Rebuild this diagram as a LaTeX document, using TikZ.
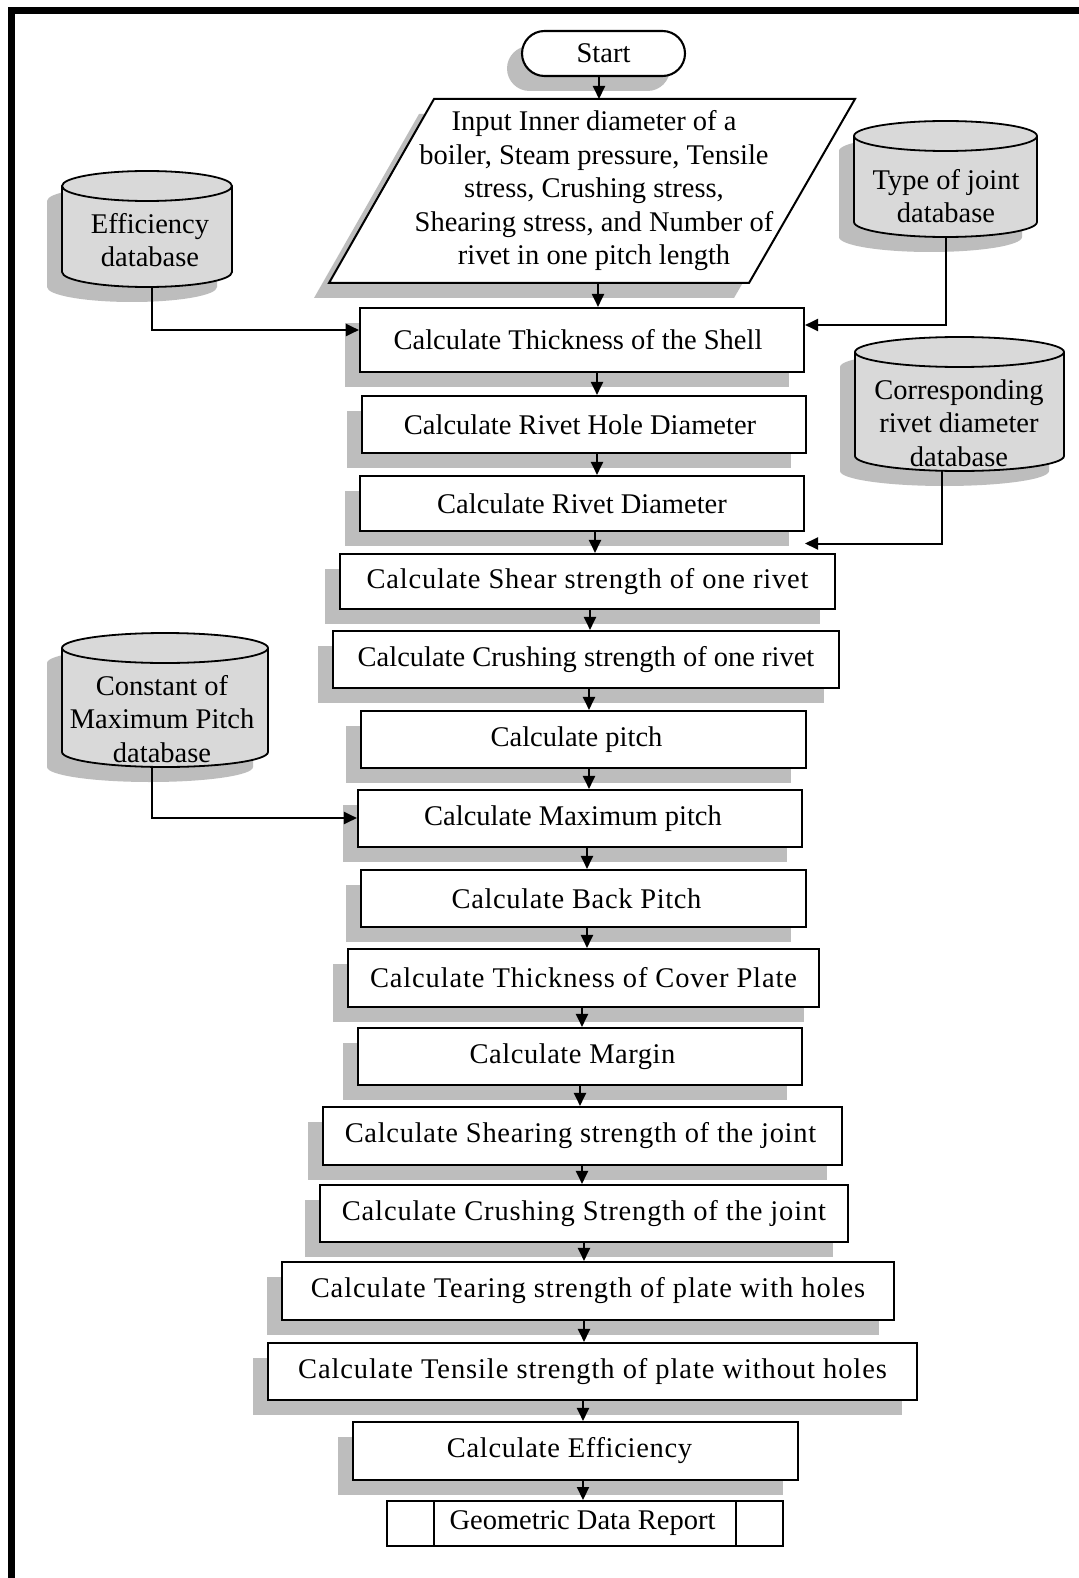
\documentclass[tikz,border=0pt]{standalone}
\usepackage{fontspec}
\setmainfont{Liberation Serif}
\usetikzlibrary{shadows,arrows.meta}
\definecolor{shadowc}{gray}{0.74}
\definecolor{dbfill}{gray}{0.85}
\newcommand\vconn[3]{\coordinate (vc) at (#3,0); \draw[arr] (#1.south -| vc) -- (#2.north -| vc);}
\newcommand\dbcyl[5]{%
 \fill[shadowc] ({#2-#5-15},{-(#3+15)-15}) -- ({#2-#5-15},{-(#4-15)-15}) arc[start angle=180,end angle=360,x radius=#5,y radius=15] -- ({#2+#5-15},{-(#3+15)-15}) arc[start angle=0,end angle=180,x radius=#5,y radius=15] -- cycle;
 \filldraw[fill=dbfill, line width=1.8pt] ({#2-#5},{-(#3+15)}) -- ({#2-#5},{-(#4-15)}) arc[start angle=180,end angle=360,x radius=#5,y radius=15] -- ({#2+#5},{-(#3+15)}) arc[start angle=0,end angle=180,x radius=#5,y radius=15] -- cycle;
 \draw[line width=1.8pt] ({#2-#5},{-(#3+15)}) arc[start angle=180,end angle=360,x radius=#5,y radius=15];
 \node[minimum width={2*#5}, minimum height={#4-#3}] (#1) at (#2,{-(#3+#4)/2}) {};
}
\begin{document}
\begin{tikzpicture}[x=1pt,y=1pt,
  every node/.style={font=\fontsize{28.5}{33.5}\selectfont, inner sep=0pt},
  proc/.style={draw, line width=2.1pt, fill=white, minimum height=57pt,
    drop shadow={shadow xshift=-15pt, shadow yshift=-15pt, fill=shadowc, opacity=1}},
  ls/.style={font=\fontsize{28.5}{33.5}\selectfont\addfontfeature{LetterSpace=#1}},
  arr/.style={line width=2pt, -{Triangle[length=13pt,width=12pt]}},
  link/.style={line width=2pt}]
\useasboundingbox (0,0) rectangle (1078,-1578);
\fill[white] (0,0) rectangle (1078,-1578);
% frame
\draw[line width=7pt] (11.5,-1582) -- (11.5,-10.5) -- (1082,-10.5);

% start
\node[proc, rounded corners=22.5pt, minimum width=163pt, minimum height=45pt] (start) at (603.5,-53.5) {\raisebox{-2pt}{Start}};

% input parallelogram
\fill[shadowc] (314,-298) -- (419,-114) -- (840,-114) -- (734,-298) -- cycle;
\draw[line width=2pt, fill=white] (329,-283) -- (434,-99) -- (855,-99) -- (749,-283) -- cycle;
\node[align=center] (para) at (594,-191) {Input Inner diameter of a\\boiler, Steam pressure, Tensile\\stress, Crushing stress,\\Shearing stress, and Number of\\rivet in one pitch length};
\coordinate (paratop) at (599,-99);
\coordinate (parabot) at (598,-283);

% process boxes
\node[proc, minimum width=444pt, minimum height=64pt] (b1) at (582,-340) {Calculate Thickness of the Shell\kern8pt};
\node[proc, minimum width=444pt] (b2) at (584,-424.5) {Calculate Rivet Hole Diameter\kern8pt};
\node[proc, minimum width=444pt, minimum height=55pt] (b3) at (582,-503.5) {Calculate Rivet Diameter};
\node[proc, ls=2.8, minimum width=495pt, minimum height=55pt] (b4) at (587.5,-581.5) {Calculate Shear strength of one rivet};
\node[proc, minimum width=506pt] (b5) at (586,-659.5) {Calculate Crushing strength of one rivet};
\node[proc, minimum width=445pt] (b6) at (583.5,-739.5) {Calculate pitch\kern14pt};
\node[proc, minimum width=444pt] (b7) at (580,-818.5) {Calculate Maximum pitch\kern14pt};
\node[proc, ls=2.2, minimum width=445pt] (b8) at (583.5,-898.5) {Calculate Back Pitch\kern14pt};
\node[proc, ls=3, minimum width=471pt, minimum height=58pt] (b9) at (583.5,-978) {Calculate Thickness of Cover Plate};
\node[proc, ls=1.9, minimum width=444pt] (b10) at (580,-1056.5) {Calculate Margin\kern15pt};
\node[proc, ls=2.5, minimum width=519pt, minimum height=58pt] (b11) at (582.5,-1136) {Calculate Shearing strength of the joint\kern4pt};
\node[proc, ls=3, minimum width=528pt] (b12) at (584,-1213.5) {Calculate Crushing Strength of the joint};
\node[proc, ls=3.2, minimum width=612pt, minimum height=58pt] (b13) at (588,-1291) {Calculate Tearing strength of plate with holes};
\node[proc, ls=3.2, minimum width=649pt] (b14) at (592.5,-1371.5) {Calculate Tensile strength of plate without holes};
\node[proc, ls=2.4, minimum width=445pt, minimum height=58pt] (b15) at (575.5,-1451) {Calculate Efficiency\kern12pt};

% report
\node[draw, line width=2pt, fill=white, minimum width=396pt, minimum height=45pt] (gdr) at (585,-1523.5) {Geometric Data Report\kern5pt};
\draw[link] ([xshift=48pt]gdr.north west) -- ([xshift=48pt]gdr.south west);
\draw[link] ([xshift=-48pt]gdr.north east) -- ([xshift=-48pt]gdr.south east);

% databases
\dbcyl{eff}{147}{171}{287}{85}
\node[align=center] (efftxt) at (150,-240) {Efficiency\\database};
\dbcyl{joint}{945.5}{121}{237}{91.5}
\node[align=center] (jointtxt) at (946,-196) {Type of joint\\database};
\dbcyl{corr}{959.5}{337}{471}{104.5}
\node[align=center] (corrtxt) at (959,-423) {Corresponding\\rivet diameter\\database};
\dbcyl{const}{165}{633}{767}{103}
\node[align=center] (consttxt) at (162,-719) {Constant of\\Maximum Pitch\\database};

% main flow
\coordinate (vc0) at (599,0);
\draw[arr] (start.south -| vc0) -- (paratop);
\draw[arr] (parabot) -- (b1.north -| parabot);
\vconn{b1}{b2}{597}
\vconn{b2}{b3}{597}
\vconn{b3}{b4}{595}
\vconn{b4}{b5}{590}
\vconn{b5}{b6}{589}
\vconn{b6}{b7}{589}
\vconn{b7}{b8}{587}
\vconn{b8}{b9}{587}
\vconn{b9}{b10}{582}
\vconn{b10}{b11}{580}
\vconn{b11}{b12}{582}
\vconn{b12}{b13}{584}
\vconn{b13}{b14}{584}
\vconn{b14}{b15}{583}
\vconn{b15}{gdr}{583}

% database links
\coordinate (ceff) at (151.5,-330);
\draw[arr] (eff.south -| ceff) |- (b1.west |- ceff);
\coordinate (cjoint) at (946,-325);
\draw[arr] (joint.south -| cjoint) |- (b1.east |- cjoint);
\coordinate (ccorr) at (942,-543.5);
\coordinate (corrend) at (805,-543.5);
\draw[arr] (corr.south -| ccorr) |- (corrend);
\coordinate (cconst) at (151.7,-818);
\draw[arr] (const.south -| cconst) |- (b7.west |- cconst);
\end{tikzpicture}
\end{document}
